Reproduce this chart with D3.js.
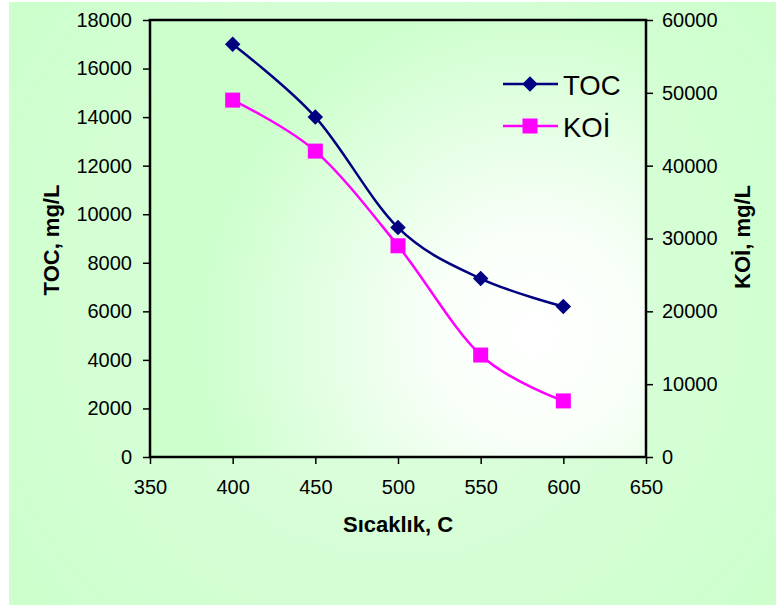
<!DOCTYPE html>
<html>
<head>
<meta charset="utf-8">
<script src="https://cdn.jsdelivr.net/npm/d3@7"></script>
<style>
  body { margin: 0; background: #fff; }
  svg text { font-family: "Liberation Sans", Arial, sans-serif; }
</style>
</head>
<body>
<div id="chart"></div>
<script>
// data
var temps = [400, 450, 500, 550, 600];
var toc = [17000, 14000, 9450, 7350, 6200];
var koi = [49000, 42000, 29000, 14000, 7700];
var xTicks = [350, 400, 450, 500, 550, 600, 650];
var leftTicks = [0, 2000, 4000, 6000, 8000, 10000, 12000, 14000, 16000, 18000];
var rightTicks = [0, 10000, 20000, 30000, 40000, 50000, 60000];

var W = 776, H = 605;
var margin = {top: 20, right: 130, bottom: 148, left: 150};
var width = W - margin.left - margin.right,
    height = H - margin.top - margin.bottom;

var svg = d3.select("#chart").append("svg")
    .attr("width", W)
    .attr("height", H);

var defs = svg.append("defs");
var outerGrad = defs.append("radialGradient").attr("id", "outerBg")
    .attr("gradientUnits", "userSpaceOnUse")
    .attr("cx", 400).attr("cy", 300).attr("r", 480);
outerGrad.append("stop").attr("offset", 0).attr("stop-color", "#e2fde2");
outerGrad.append("stop").attr("offset", 1).attr("stop-color", "#ccffcc");

var plotGrad = defs.append("radialGradient").attr("id", "plotBg")
    .attr("gradientUnits", "userSpaceOnUse")
    .attr("cx", 385).attr("cy", 315).attr("r", 340);
plotGrad.append("stop").attr("offset", 0).attr("stop-color", "#ffffff");
plotGrad.append("stop").attr("offset", 0.3).attr("stop-color", "#f9fff9");
plotGrad.append("stop").attr("offset", 1).attr("stop-color", "#ccffcc");

svg.append("rect")
    .attr("x", 9).attr("y", 2)
    .attr("width", W - 9).attr("height", H - 2)
    .style("fill", "url(#outerBg)");

var g = svg.append("g")
    .attr("transform", "translate(" + margin.left + "," + margin.top + ")");

var x = d3.scaleLinear().domain([350, 650]).range([0, width]);
var yL = d3.scaleLinear().domain([0, 18000]).range([height, 0]);
var yR = d3.scaleLinear().domain([0, 60000]).range([height, 0]);

g.append("rect")
    .attr("width", width).attr("height", height)
    .style("fill", "url(#plotBg)");

// axes
var xAxis = g.append("g")
    .attr("transform", "translate(0," + height + ")")
    .call(d3.axisBottom(x).tickValues(xTicks).tickSize(7).tickPadding(16).tickFormat(d3.format("d")));
var leftAxis = g.append("g")
    .call(d3.axisLeft(yL).tickValues(leftTicks).tickSize(7).tickPadding(11).tickFormat(d3.format("d")));
var rightAxis = g.append("g")
    .attr("transform", "translate(" + width + ",0)")
    .call(d3.axisRight(yR).tickValues(rightTicks).tickSize(7).tickPadding(9).tickFormat(d3.format("d")));

[xAxis, leftAxis, rightAxis].forEach(function(a) {
  a.select(".domain").remove();
  a.selectAll(".tick line").style("stroke", "#000").style("stroke-width", 1.5);
  a.selectAll(".tick text").style("font-size", "20px").style("fill", "#000");
});

g.append("rect")
    .attr("width", width).attr("height", height)
    .style("fill", "none")
    .style("stroke", "#000")
    .style("stroke-width", 2.5);

// lines
var lineL = d3.line()
    .x(function(d, i) { return x(temps[i]); })
    .y(function(d) { return yL(d); })
    .curve(d3.curveCatmullRom.alpha(0));
var lineR = d3.line()
    .x(function(d, i) { return x(temps[i]); })
    .y(function(d) { return yR(d); })
    .curve(d3.curveCatmullRom.alpha(0));

g.append("path").datum(koi)
    .attr("d", lineR)
    .style("fill", "none").style("stroke", "#ff00ff").style("stroke-width", 2.5);
g.append("path").datum(toc)
    .attr("d", lineL)
    .style("fill", "none").style("stroke", "#000080").style("stroke-width", 2.5);

var diamond = d3.symbol().type(d3.symbolSquare).size(120);
g.selectAll(".tocPt").data(toc).enter().append("path")
    .attr("class", "tocPt")
    .attr("d", diamond)
    .attr("transform", function(d, i) { return "translate(" + x(temps[i]) + "," + yL(d) + ") rotate(45)"; })
    .style("fill", "#000080");

g.selectAll(".koiPt").data(koi).enter().append("rect")
    .attr("class", "koiPt")
    .attr("x", function(d, i) { return x(temps[i]) - 7.5; })
    .attr("y", function(d) { return yR(d) - 7.5; })
    .attr("width", 15).attr("height", 15)
    .style("fill", "#ff00ff");

// legend
var legend = svg.append("g");
var legItems = [
  {name: "TOC", color: "#000080", y: 84},
  {name: "KOİ", color: "#ff00ff", y: 126}
];
legItems.forEach(function(it) {
  legend.append("line")
      .attr("x1", 503).attr("x2", 558).attr("y1", it.y).attr("y2", it.y)
      .style("stroke", it.color).style("stroke-width", 2.5);
  if (it.name == "TOC") {
    legend.append("path").attr("d", diamond)
        .attr("transform", "translate(530," + it.y + ") rotate(45)")
        .style("fill", it.color);
  } else {
    legend.append("rect").attr("x", 522.5).attr("y", it.y - 7.5)
        .attr("width", 15).attr("height", 15).style("fill", it.color);
  }
  legend.append("text")
      .attr("x", 563).attr("y", it.y + 11)
      .style("font-size", "27.5px")
      .text(it.name);
});

// axis titles
svg.append("text")
    .attr("x", 398).attr("y", 532)
    .attr("text-anchor", "middle")
    .style("font-size", "22px").style("font-weight", "bold")
    .text("Sıcaklık, C");
svg.append("text")
    .attr("transform", "translate(59,240) rotate(-90)")
    .attr("text-anchor", "middle")
    .style("font-size", "22px").style("font-weight", "bold")
    .text("TOC, mg/L");
svg.append("text")
    .attr("transform", "translate(750,237) rotate(-90)")
    .attr("text-anchor", "middle")
    .style("font-size", "22px").style("font-weight", "bold")
    .text("KOİ, mg/L");
</script>
</body>
</html>
